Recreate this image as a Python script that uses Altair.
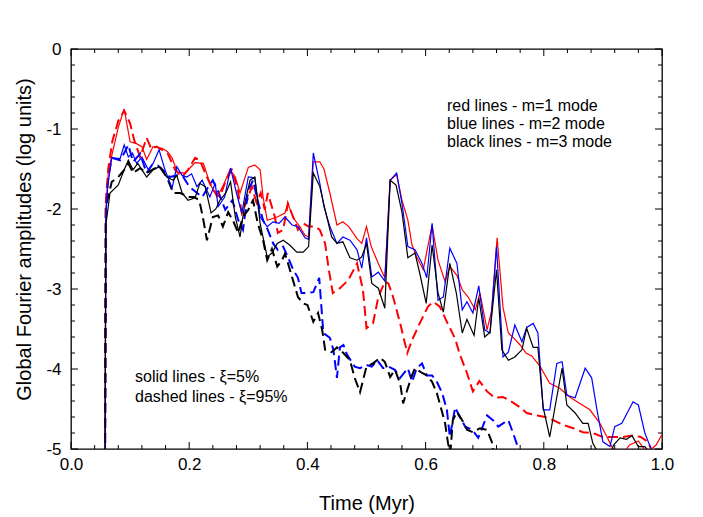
import altair as alt
import pandas as pd

# ---------------- data (time in Myr, log amplitude) ----------------
red_solid = [(0.0575,-5.3),(0.059,-2.0),(0.063,-1.55),(0.07,-1.3),(0.08,-0.98),(0.09,-0.75),(0.10,-1.16),(0.11,-1.18),
    (0.12,-1.22),(0.128,-1.38),(0.139,-1.22),(0.154,-1.24),(0.163,-1.28),(0.171,-1.36),(0.18,-1.54),(0.193,-1.55),
    (0.21,-1.42),(0.224,-1.43),(0.235,-1.68),(0.247,-1.85),(0.258,-1.7),(0.269,-1.51),(0.278,-1.6),(0.286,-1.8),
    (0.30,-1.48),(0.311,-1.45),(0.32,-1.51),(0.325,-1.85),(0.332,-2.14),(0.349,-2.1),(0.362,-2.05),(0.367,-1.93),
    (0.376,-2.11),(0.387,-2.22),(0.396,-2.33),(0.402,-2.35),(0.41,-1.41),(0.421,-1.41),(0.428,-1.5),(0.438,-1.8),
    (0.45,-2.2),(0.46,-2.16),(0.47,-2.22),(0.484,-2.37),(0.492,-2.43),(0.50,-2.22),(0.508,-2.47),(0.52,-2.68),
    (0.531,-2.86),(0.54,-1.64),(0.551,-1.57),(0.56,-1.89),(0.57,-2.14),(0.577,-2.45),(0.585,-2.6),(0.596,-2.76),
    (0.611,-2.2),(0.621,-2.64),(0.633,-2.91),(0.641,-2.72),(0.653,-2.83),(0.662,-3.01),(0.672,-3.1),(0.684,-3.26),
    (0.692,-3.05),(0.704,-3.51),(0.712,-3.26),(0.721,-2.36),(0.731,-3.23),(0.74,-3.55),(0.75,-3.62),(0.76,-3.7),
    (0.77,-3.8),(0.78,-3.84),(0.794,-3.97),(0.80,-4.05),(0.81,-4.18),(0.827,-4.24),(0.844,-4.35),(0.861,-4.43),
    (0.878,-4.51),(0.895,-4.68),(0.907,-4.85),(0.915,-4.97),(0.93,-5.1),(0.945,-4.95),(0.96,-4.9),(0.975,-5.05),
    (0.99,-4.95),(1.0,-4.82)]

blue_solid = [(0.0575,-5.3),(0.059,-2.1),(0.062,-1.72),(0.069,-1.36),(0.083,-1.37),(0.09,-1.2),(0.097,-1.35),
    (0.104,-1.3),(0.111,-1.43),(0.12,-1.35),(0.131,-1.51),(0.139,-1.43),(0.149,-1.26),(0.159,-1.51),(0.171,-1.74),
    (0.179,-1.47),(0.188,-1.58),(0.196,-1.6),(0.204,-1.56),(0.213,-1.72),(0.222,-1.64),(0.235,-1.85),(0.244,-1.68),
    (0.249,-1.97),(0.26,-1.85),(0.27,-1.49),(0.28,-1.8),(0.289,-2.05),(0.30,-1.6),(0.311,-1.61),(0.32,-2.1),
    (0.332,-2.22),(0.342,-2.16),(0.352,-2.18),(0.362,-2.1),(0.374,-2.2),(0.384,-2.22),(0.396,-2.36),(0.402,-2.38),
    (0.41,-1.3),(0.421,-1.68),(0.428,-1.97),(0.438,-2.22),(0.45,-2.43),(0.46,-2.35),(0.472,-2.39),(0.484,-2.51),
    (0.492,-2.74),(0.50,-2.36),(0.509,-2.85),(0.52,-2.79),(0.531,-2.9),(0.54,-1.64),(0.551,-1.55),(0.56,-1.93),
    (0.57,-2.47),(0.582,-2.51),(0.594,-2.68),(0.602,-2.86),(0.611,-2.18),(0.621,-3.14),(0.63,-3.1),(0.641,-2.49),
    (0.653,-2.68),(0.662,-3.26),(0.67,-3.16),(0.68,-3.3),(0.69,-2.96),(0.70,-3.51),(0.709,-3.55),(0.72,-2.47),
    (0.731,-3.85),(0.74,-3.79),(0.751,-3.45),(0.763,-3.66),(0.771,-3.48),(0.782,-3.43),(0.79,-3.55),(0.799,-4.51),
    (0.81,-4.51),(0.822,-3.93),(0.831,-3.91),(0.839,-4.33),(0.853,-4.36),(0.87,-3.99),(0.881,-4.11),(0.89,-4.51),
    (0.90,-4.91),(0.912,-4.97),(0.92,-4.72),(0.932,-4.68),(0.951,-4.41),(0.96,-4.45),(0.971,-4.8),(0.98,-4.97),
    (0.99,-5.2)]

black_solid = [(0.0575,-5.3),(0.059,-2.2),(0.066,-1.8),(0.08,-1.7),(0.09,-1.51),(0.097,-1.39),(0.105,-1.51),
    (0.113,-1.43),(0.128,-1.6),(0.139,-1.51),(0.15,-1.47),(0.162,-1.6),(0.173,-1.64),(0.179,-1.58),(0.188,-1.8),
    (0.198,-1.89),(0.21,-1.86),(0.218,-1.68),(0.227,-1.72),(0.237,-2.05),(0.245,-2.0),(0.252,-1.89),(0.262,-1.8),
    (0.27,-1.66),(0.278,-2.1),(0.286,-2.35),(0.294,-1.93),(0.303,-1.64),(0.311,-1.6),(0.32,-2.18),(0.332,-2.6),
    (0.34,-2.55),(0.349,-2.43),(0.359,-2.39),(0.37,-2.45),(0.382,-2.54),(0.393,-2.54),(0.402,-2.47),(0.41,-1.55),
    (0.421,-1.72),(0.43,-2.01),(0.441,-2.35),(0.45,-2.43),(0.46,-2.41),(0.472,-2.61),(0.484,-2.64),(0.492,-2.6),
    (0.50,-2.43),(0.509,-2.93),(0.52,-2.99),(0.531,-3.24),(0.54,-1.64),(0.55,-1.7),(0.56,-2.04),(0.57,-2.61),
    (0.582,-2.55),(0.59,-2.8),(0.601,-3.18),(0.611,-2.45),(0.621,-3.05),(0.63,-3.29),(0.641,-2.68),(0.652,-3.05),
    (0.662,-3.55),(0.67,-3.38),(0.682,-3.58),(0.69,-3.11),(0.70,-3.6),(0.709,-3.54),(0.72,-2.76),(0.729,-3.76),
    (0.74,-3.89),(0.751,-3.85),(0.763,-3.76),(0.771,-3.49),(0.782,-3.73),(0.79,-3.73),(0.799,-4.48),(0.81,-4.85),
    (0.822,-4.35),(0.831,-3.99),(0.839,-4.45),(0.853,-4.55),(0.866,-4.68),(0.875,-4.68),(0.883,-4.93),(0.892,-5.05),
    (0.905,-5.2),(0.918,-4.95),(0.929,-4.86),(0.94,-4.88),(0.949,-4.83),(0.96,-4.97),(0.971,-4.97),(0.98,-5.05),
    (0.99,-5.2)]

red_dashed = [(0.0575,-5.3),(0.059,-1.9),(0.063,-1.5),(0.07,-1.15),(0.08,-0.9),(0.09,-0.77),(0.10,-0.93),
    (0.107,-1.14),(0.117,-1.35),(0.128,-1.11),(0.136,-1.25),(0.145,-1.22),(0.154,-1.26),(0.164,-1.31),(0.176,-1.51),
    (0.188,-1.6),(0.198,-1.51),(0.21,-1.36),(0.218,-1.39),(0.23,-1.6),(0.24,-1.76),(0.252,-1.85),(0.262,-1.64),
    (0.272,-1.51),(0.281,-1.72),(0.289,-2.05),(0.298,-1.89),(0.306,-1.72),(0.314,-1.92),(0.321,-1.8),(0.328,-2.01),
    (0.333,-1.8),(0.345,-2.1),(0.35,-2.3),(0.359,-2.26),(0.367,-1.93),(0.376,-2.1),(0.384,-2.26),(0.393,-2.18),
    (0.402,-2.22),(0.413,-2.22),(0.421,-2.26),(0.43,-2.43),(0.436,-2.75),(0.443,-3.05),(0.455,-2.99),(0.469,-2.89),
    (0.484,-2.68),(0.494,-3.01),(0.50,-3.49),(0.511,-3.43),(0.52,-3.1),(0.531,-2.91),(0.537,-2.93),(0.545,-3.1),
    (0.557,-3.43),(0.569,-3.8),(0.577,-3.64),(0.59,-3.43),(0.604,-3.22),(0.613,-3.16),(0.624,-3.22),(0.636,-3.41),
    (0.65,-3.62),(0.658,-3.82),(0.67,-4.05),(0.68,-4.28),(0.691,-4.15),(0.704,-4.28),(0.717,-4.36),(0.731,-4.35),
    (0.746,-4.41),(0.76,-4.48),(0.771,-4.55),(0.789,-4.58),(0.802,-4.6),(0.816,-4.64),(0.833,-4.7),(0.85,-4.74),
    (0.866,-4.79),(0.883,-4.8),(0.90,-4.85),(0.917,-4.85),(0.934,-4.85),(0.951,-4.83),(0.964,-4.85),(0.976,-4.91),
    (0.985,-5.05)]

blue_dashed = [(0.0575,-5.3),(0.059,-2.0),(0.063,-1.6),(0.069,-1.36),(0.083,-1.39),(0.09,-1.3),(0.097,-1.2),
    (0.105,-1.41),(0.117,-1.31),(0.128,-1.55),(0.137,-1.45),(0.147,-1.46),(0.155,-1.51),(0.167,-1.6),(0.18,-1.58),
    (0.19,-1.6),(0.20,-1.72),(0.222,-1.85),(0.23,-1.75),(0.24,-1.64),(0.25,-1.8),(0.261,-2.01),(0.273,-1.89),
    (0.283,-2.14),(0.291,-2.26),(0.30,-1.76),(0.308,-1.64),(0.316,-1.9),(0.325,-2.14),(0.333,-2.26),(0.342,-2.43),
    (0.35,-2.51),(0.359,-2.47),(0.367,-2.6),(0.376,-2.76),(0.384,-2.86),(0.39,-3.05),(0.40,-3.05),(0.41,-3.04),
    (0.42,-2.86),(0.427,-3.55),(0.438,-3.61),(0.444,-3.76),(0.45,-4.11),(0.455,-3.73),(0.461,-3.7),(0.467,-3.82),
    (0.48,-3.97),(0.489,-3.99),(0.50,-3.95),(0.509,-3.97),(0.518,-3.89),(0.528,-3.99),(0.537,-3.97),(0.548,-4.01),
    (0.557,-4.11),(0.57,-3.99),(0.577,-4.16),(0.585,-3.99),(0.594,-3.93),(0.602,-4.08),(0.611,-4.08),(0.619,-4.16),
    (0.628,-4.3),(0.636,-4.51),(0.641,-4.85),(0.65,-4.48),(0.658,-4.6),(0.667,-4.72),(0.679,-4.76),(0.689,-4.86),
    (0.695,-4.75),(0.704,-4.58),(0.714,-4.64),(0.723,-4.72),(0.731,-4.68),(0.74,-4.64),(0.748,-4.8),(0.754,-4.93),
    (0.76,-5.1)]

black_dashed = [(0.0575,-5.3),(0.059,-1.97),(0.069,-1.66),(0.08,-1.6),(0.09,-1.51),(0.097,-1.43),(0.105,-1.55),
    (0.117,-1.49),(0.128,-1.55),(0.14,-1.5),(0.15,-1.47),(0.162,-1.6),(0.173,-1.8),(0.185,-1.8),(0.198,-1.85),
    (0.208,-1.85),(0.217,-1.89),(0.223,-2.1),(0.23,-2.39),(0.24,-2.1),(0.249,-2.08),(0.257,-2.22),(0.266,-2.04),
    (0.275,-2.16),(0.283,-2.3),(0.291,-2.1),(0.30,-2.01),(0.308,-1.89),(0.316,-2.18),(0.325,-2.39),(0.332,-2.64),
    (0.34,-2.5),(0.349,-2.72),(0.357,-2.64),(0.362,-2.56),(0.368,-2.7),(0.374,-2.85),(0.384,-3.1),(0.393,-3.18),
    (0.40,-3.2),(0.41,-3.41),(0.418,-3.3),(0.425,-3.51),(0.43,-3.76),(0.441,-3.79),(0.45,-3.73),(0.461,-3.8),
    (0.472,-3.89),(0.48,-4.11),(0.489,-4.29),(0.50,-3.97),(0.511,-3.93),(0.523,-3.86),(0.531,-3.91),(0.54,-4.1),
    (0.548,-4.01),(0.557,-4.18),(0.562,-4.43),(0.569,-4.26),(0.577,-4.08),(0.582,-3.99),(0.594,-4.05),(0.602,-4.08),
    (0.611,-4.16),(0.619,-4.3),(0.628,-4.54),(0.633,-4.68),(0.638,-4.93),(0.642,-5.05),(0.646,-4.64),(0.653,-4.54),
    (0.662,-4.64),(0.67,-4.76),(0.68,-4.79),(0.692,-4.74),(0.704,-4.76),(0.712,-4.91),(0.716,-5.1)]

x_major = [0.0, 0.2, 0.4, 0.6, 0.8, 1.0]
x_minor = [0.04, 0.08, 0.12, 0.16, 0.24, 0.28, 0.32, 0.36, 0.44, 0.48, 0.52, 0.56,
           0.64, 0.68, 0.72, 0.76, 0.84, 0.88, 0.92, 0.96]
y_major = [0, -1, -2, -3, -4, -5]
y_minor = [-0.2, -0.4, -0.6, -0.8, -1.2, -1.4, -1.6, -1.8, -2.2, -2.4, -2.6, -2.8,
           -3.2, -3.4, -3.6, -3.8, -4.2, -4.4, -4.6, -4.8]

mode_note = "red lines - m=1 mode\nblue lines - m=2 mode\nblack lines - m=3 mode"
xi_note = "solid lines - \u03be=5%\ndashed lines - \u03be=95%"

# ---------------- chart ----------------
W, H = 591, 400
FONT = "Liberation Sans"
xs = alt.Scale(domain=[0, 1], nice=False, zero=False)
ys = alt.Scale(domain=[-5, 0], nice=False, zero=False)

x_axis = alt.Axis(values=x_major, labelExpr="format(datum.value, '.1f')", title="Time (Myr)",
                  ticks=False, tickSize=0, domain=False, grid=False, labelFont=FONT, labelFontSize=17,
                  labelColor="black", labelPadding=7, labelFlush=False, titleFont=FONT, titleFontSize=20,
                  titleFontWeight="normal", titleColor="black", titleY=60, titleBaseline="alphabetic")
y_axis = alt.Axis(values=y_major, labelExpr="'' + datum.value", title="Global Fourier amplitudes (log units)",
                  ticks=False, tickSize=0, domain=False, grid=False, labelFont=FONT, labelFontSize=17,
                  labelColor="black", labelPadding=10, labelFlush=False, titleFont=FONT, titleFontSize=20,
                  titleFontWeight="normal", titleColor="black", titleX=-41, titleY=190,
                  titleBaseline="alphabetic")

X = alt.X("t:Q", scale=xs, axis=x_axis)
Y = alt.Y("v:Q", scale=ys, axis=y_axis)


def line_layer(pairs, color, dashed):
    df = pd.DataFrame(pairs, columns=["t", "v"])
    df["i"] = range(len(df))
    kw = dict(color=color, clip=True, strokeWidth=2.0 if dashed else 1.2)
    if dashed:
        kw["strokeDash"] = [10, 5]
    return alt.Chart(df).mark_line(**kw).encode(x=X, y=Y, order="i:Q")


def xtick_layers(vals, size):
    df = pd.DataFrame({"t": vals})
    base = alt.Chart(df).mark_rule(color="black", strokeWidth=1)
    return [base.encode(x=X, y=alt.value(H), y2=alt.value(H - size)),
            base.encode(x=X, y=alt.value(0), y2=alt.value(size))]


def ytick_layers(vals, size):
    df = pd.DataFrame({"v": vals})
    base = alt.Chart(df).mark_rule(color="black", strokeWidth=1)
    return [base.encode(y=Y, x=alt.value(0), x2=alt.value(size)),
            base.encode(y=Y, x=alt.value(W), x2=alt.value(W - size))]


layers = [
    line_layer(red_dashed, "#ff0000", True),
    line_layer(blue_dashed, "#0000ff", True),
    line_layer(black_dashed, "#000000", True),
    line_layer(red_solid, "#ff0000", False),
    line_layer(blue_solid, "#0000ff", False),
    line_layer(black_solid, "#000000", False),
]
layers += xtick_layers(x_major, 7) + xtick_layers(x_minor, 4)
layers += ytick_layers(y_major, 7) + ytick_layers(y_minor, 4)

note1 = alt.Chart(pd.DataFrame({"label": [mode_note]})).mark_text(
    align="left", baseline="top", font=FONT, fontSize=16, lineBreak="\n", lineHeight=18, color="black"
).encode(x=alt.value(376), y=alt.value(49), text="label:N")
note2 = alt.Chart(pd.DataFrame({"label": [xi_note]})).mark_text(
    align="left", baseline="top", font=FONT, fontSize=16, lineBreak="\n", lineHeight=20, color="black"
).encode(x=alt.value(64), y=alt.value(320), text="label:N")
layers += [note1, note2]

chart = alt.layer(*layers).properties(
    width=W, height=H,
    autosize=alt.AutoSizeParams(type="none"),
    padding={"left": 63, "top": 41, "right": 33, "bottom": 68},
    background="white",
).configure_view(stroke="black", strokeWidth=1.3)

chart.save("out.html", embed_options={"renderer": "svg", "actions": False})
